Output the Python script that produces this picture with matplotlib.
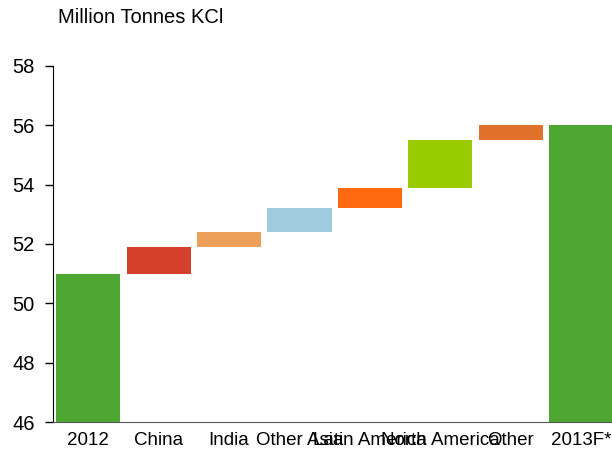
import matplotlib.pyplot as plt

categories = ["2012", "China", "India", "Other Asia", "Latin America",
              "North America", "Other", "2013F*"]
start_total = 51.0
changes = [0.9, 0.5, 0.8, 0.7, 1.6, 0.5]
end_total = 56.0
colors = ["#4ea732", "#d4402a", "#eda05a", "#9ecbdd", "#ff6a10",
          "#99cc00", "#e0702a", "#4ea732"]

plt.rcParams['font.family'] = ['Liberation Sans', 'DejaVu Sans']

fig = plt.figure(figsize=(6.12, 4.53), dpi=100)
ax = fig.add_axes([0.0866, 0.0684, 0.9207, 0.786])

heights = [start_total] + changes + [end_total]
bottoms = [0]
level = start_total
for c in changes:
    bottoms.append(level)
    level += c
bottoms.append(0)

x = range(len(categories))
ax.bar(x, heights, bottom=bottoms, width=0.91, color=colors, linewidth=0)

ax.set_xlim(-0.5, 7.5)
ax.set_ylim(46, 58)
ax.set_yticks(range(46, 59, 2))
ax.set_xticks(list(x))
ax.set_xticklabels(categories)

ax.spines['top'].set_visible(False)
ax.spines['right'].set_visible(False)
ax.spines['left'].set_color('black')
ax.spines['bottom'].set_color('#555555')
ax.tick_params(axis='y', length=6, width=1, labelsize=14.5, pad=7)
ax.tick_params(axis='x', length=0, labelsize=13.5, pad=7.5)

fig.text(0.095, 0.962, "Million Tonnes KCl", fontsize=14.5, va='center', ha='left')

fig.savefig("out.png", dpi=100)
